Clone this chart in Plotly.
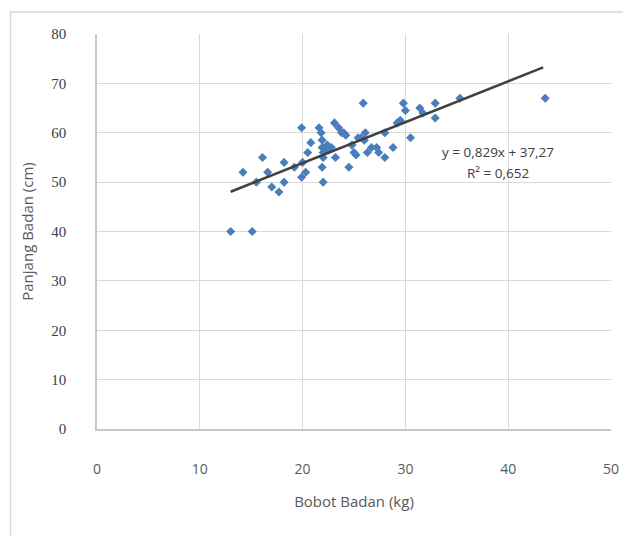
import plotly.graph_objects as go

bobot = [13.0, 15.1, 14.2, 15.5, 16.1, 16.6, 17.0, 17.7, 18.2, 18.2, 19.2, 19.9, 20.0, 19.9, 20.3,
         20.5, 20.8, 21.6, 21.8, 21.9, 21.9, 22.2, 22.5, 22.0, 22.8, 22.0, 21.9, 22.0, 23.2, 23.1,
         23.5, 23.8, 24.2, 24.0, 24.5, 24.8, 25.2, 25.0, 25.4, 25.9, 26.1, 26.0, 26.3, 26.7, 27.2,
         27.4, 28.0, 28.0, 28.8, 29.2, 29.5, 29.8, 30.0, 30.5, 31.4, 31.7, 32.9, 32.9, 35.3, 43.6,
         25.7, 22.4]
panjang = [40, 40, 52, 50, 55, 52, 49, 48, 54, 50, 53, 61, 54, 51, 52,
           56, 58, 61, 60, 58.5, 57, 57, 56.5, 56, 57, 55, 53, 50, 55, 62,
           61, 60, 59.5, 60, 53, 57.5, 55.5, 56, 59, 66, 60, 58.5, 56, 57, 57,
           56, 60, 55, 57, 62, 62.5, 66, 64.5, 59, 65, 64, 66, 63, 67, 67,
           59, 57.5]

slope = 0.829
intercept = 37.27
eq_text = ["y = 0,829x + 37,27", "R² = 0,652"]
x_ticks = [0, 10, 20, 30, 40, 50]
y_ticks = [0, 10, 20, 30, 40, 50, 60, 70, 80]

xmin, xmax = 13.0, 43.4
line_x = [xmin, xmax]
line_y = [slope * v + intercept for v in line_x]

sans = "Open Sans, sans-serif"

fig = go.Figure()
fig.add_trace(go.Scatter(x=bobot, y=panjang, mode="markers",
                         marker=dict(symbol="diamond", size=7, color="#4a7ebb"),
                         showlegend=False, hoverinfo="x+y"))
fig.add_trace(go.Scatter(x=line_x, y=line_y, mode="lines",
                         line=dict(color="#404040", width=2.5), showlegend=False))

fig.add_annotation(x=39.0, y=56.1, text=eq_text[0], showarrow=False,
                   font=dict(family=sans, size=13.5, color="#404040"))
fig.add_annotation(x=39.0, y=51.8, text=eq_text[1], showarrow=False,
                   font=dict(family=sans, size=13.5, color="#404040"))

L, T, PW, PH = 89, 26, 517, 395
fig.add_shape(type="rect", xref="paper", yref="paper",
              x0=(2 - L) / PW, x1=(660 - L) / PW,
              y0=(T + PH - 560) / PH, y1=(T + PH - 4) / PH,
              line=dict(color="#d9d9d9", width=1.5), fillcolor="rgba(0,0,0,0)", layer="below")

fig.update_layout(
    width=623, height=528,
    margin=dict(l=L, r=623 - L - PW, t=T, b=528 - T - PH),
    paper_bgcolor="white", plot_bgcolor="white",
    xaxis=dict(range=[0, 50], tickvals=x_ticks, showgrid=True, gridcolor="#d9d9d9", gridwidth=1,
               zeroline=False, showline=True, linecolor="#c8c8c8", linewidth=1.5,
               ticks="", ticklabelstandoff=26,
               tickfont=dict(family=sans, size=14, color="#595959"),
               title=dict(text="Bobot Badan (kg)", standoff=20,
                          font=dict(family=sans, size=15, color="#595959"))),
    yaxis=dict(range=[0, 80], tickvals=y_ticks, showgrid=True, gridcolor="#d9d9d9", gridwidth=1,
               zeroline=False, showline=True, linecolor="#c8c8c8", linewidth=1.5,
               ticks="", ticklabelstandoff=26,
               tickfont=dict(family="Liberation Serif, serif", size=15, color="#404040"),
               title=dict(text="Panjang Badan (cm)", standoff=14,
                          font=dict(family=sans, size=15, color="#595959"))),
)

fig.write_html("out.html")
